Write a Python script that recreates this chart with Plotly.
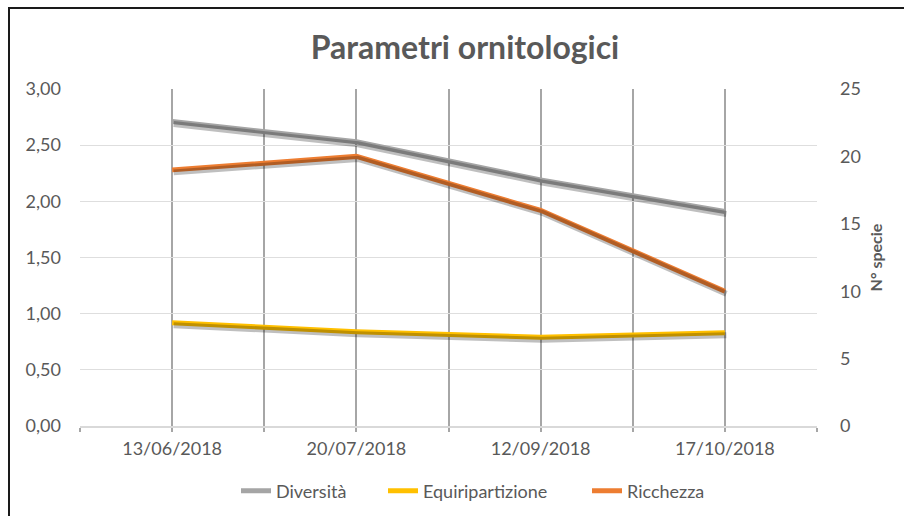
import plotly.graph_objects as go

dates = ["13/06/2018", "20/07/2018", "12/09/2018", "17/10/2018"]
diversita = [2.71, 2.53, 2.19, 1.91]
equiripartizione = [0.92, 0.84, 0.79, 0.83]
ricchezza = [19, 20, 16, 10]
left_ticks = [0, 0.5, 1.0, 1.5, 2.0, 2.5, 3.0]
left_labels = ["0,00", "0,50", "1,00", "1,50", "2,00", "2,50", "3,00"]
right_ticks = [0, 5, 10, 15, 20, 25]

x = list(range(len(dates)))
FONT = "Lato"
TXT = "#595959"

W, H = 904, 516
ML, MR, MT, MB = 80, 87, 89, 90
PW, PH = W - ML - MR, H - MT - MB

# shadow offset (pixels) converted to axis units
sx = 1.5 * 4.0 / PW
sy1 = 2.5 * 3.0 / PH
sy2 = 2.5 * 25.0 / PH

fig = go.Figure()

series = [
    ("Diversità", diversita, "#A5A5A5", "y", "y3", "legend"),
    ("Equiripartizione", equiripartizione, "#FFC000", "y", "y3", "legend2"),
    ("Ricchezza", ricchezza, "#ED7D31", "y2", "y4", "legend3"),
]
for name, vals, color, ax, shax, lg in series:
    fig.add_trace(go.Scatter(x=x, y=vals, mode="lines", xaxis="x2", yaxis=shax,
                             showlegend=False, hoverinfo="skip",
                             line=dict(color="rgba(0,0,0,0.25)", width=6)))
for name, vals, color, ax, shax, lg in series:
    fig.add_trace(go.Scatter(x=x, y=vals, mode="lines", name=name, yaxis=ax,
                             legend=lg, line=dict(color=color, width=5)))

leg_common = dict(orientation="h", xref="container", yref="container",
                  yanchor="middle", y=1 - 491 / H,
                  xanchor="left", font=dict(family=FONT, size=18, color=TXT),
                  bgcolor="rgba(0,0,0,0)", borderwidth=0, itemwidth=30)

def legx(text_start_page):
    # legend text begins ~40px after the legend's left edge
    return (text_start_page - 40) / W

fig.update_layout(
    width=W, height=H,
    paper_bgcolor="white", plot_bgcolor="white",
    margin=dict(l=ML, r=MR, t=MT, b=MB, autoexpand=False),
    font=dict(family=FONT, color=TXT, size=18),
    title=dict(text="<b>Parametri ornitologici</b>", x=465 / W, xanchor="center",
               xref="container", yref="container",
               y=1 - 48 / H, yanchor="middle",
               font=dict(family=FONT, size=32, color=TXT)),
    xaxis=dict(range=[-0.5, 3.5], tickvals=x, ticktext=dates, automargin=False,
               showgrid=True, gridcolor="#A6A6A6", gridwidth=2,
               zeroline=False, showline=True, linecolor="#D9D9D9", linewidth=1.5,
               ticks="outside", ticklen=4, tickcolor="#A6A6A6", tickwidth=2,
               ticklabelstandoff=2,
               minor=dict(tickvals=[-0.5, 0.5, 1.5, 2.5, 3.5], showgrid=True,
                          gridcolor="#A6A6A6", gridwidth=2,
                          ticks="outside", ticklen=4, tickcolor="#A6A6A6", tickwidth=2),
               tickfont=dict(size=18, color=TXT)),
    xaxis2=dict(range=[-0.5 - sx, 3.5 - sx], overlaying="x", visible=False),
    yaxis=dict(range=[0, 3], tickvals=left_ticks, ticktext=left_labels, automargin=False,
               showgrid=True, gridcolor="#DEDEDE", gridwidth=1, zeroline=False,
               ticks="", ticklabelstandoff=18,
               tickfont=dict(size=18, color=TXT)),
    yaxis2=dict(range=[0, 25], tickvals=right_ticks, overlaying="y", side="right",
                automargin=False,
                showgrid=False, zeroline=False, ticks="", ticklabelstandoff=22,
                tickfont=dict(size=18, color=TXT),
                title=dict(text="<b>N° specie</b>", font=dict(size=16, color=TXT),
                           standoff=10)),
    yaxis3=dict(range=[sy1, 3 + sy1], overlaying="y", visible=False),
    yaxis4=dict(range=[sy2, 25 + sy2], overlaying="y", visible=False),
    legend=dict(leg_common, x=legx(276)),
    legend2=dict(leg_common, x=legx(423)),
    legend3=dict(leg_common, x=legx(627)),
    showlegend=True,
)

# outer frame (cropped at right and bottom like the reference)
fig.add_shape(type="rect", xref="paper", yref="paper",
              x0=(9 - ML) / PW, x1=(W + 20 - ML) / PW,
              y0=-(MB + 20) / PH, y1=1 + (MT - 8) / PH,
              line=dict(color="#1a1a1a", width=2), fillcolor="rgba(0,0,0,0)", layer="above")

fig.write_html("out.html", config={"displayModeBar": False},
               post_script="document.body.style.margin='0';document.body.style.overflow='hidden';")
